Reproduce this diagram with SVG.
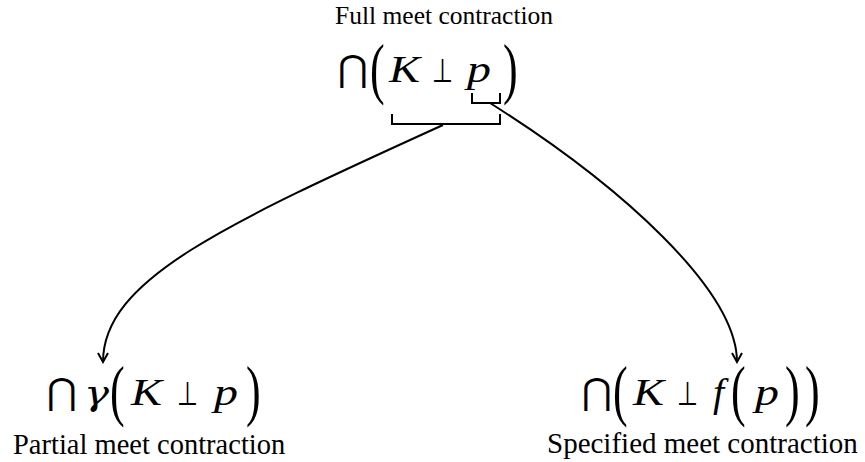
<svg xmlns="http://www.w3.org/2000/svg" width="865" height="462" viewBox="0 0 865 462">
<style>
.lbl{font-family:"Liberation Serif","Times New Roman",serif;fill:#000}
.m{font-family:"Liberation Serif","DejaVu Serif",serif;fill:#000}
.it{font-style:italic;font-size:37px}
.par{font-size:44px}
.gam{font-family:"DejaVu Serif",serif;font-style:italic;font-size:34px;fill:#000}
.cap{font-family:"DejaVu Sans","DejaVu Serif",sans-serif;font-size:36px;fill:#000}
.perp{font-family:"DejaVu Sans","DejaVu Serif",sans-serif;font-size:33px;fill:#000}
.ln{fill:none;stroke:#000;stroke-width:2}
</style>
<defs>
<marker id="ah" viewBox="0 0 12 12" refX="10" refY="6" markerWidth="12" markerHeight="12" markerUnits="userSpaceOnUse" orient="auto">
<path d="M1,1 L10,6 L1,11" fill="none" stroke="#000" stroke-width="2"/>
</marker>
</defs>
<g id="full">
<text class="lbl" x="335" y="24" font-size="25.5">Full meet contraction</text>
<text class="cap" x="338" y="81" textLength="30" lengthAdjust="spacingAndGlyphs">⋂</text>
<text class="m par" transform="translate(370,91) scale(1,1.55)">(</text>
<text class="m it" x="389" y="82" textLength="31" lengthAdjust="spacingAndGlyphs">K</text>
<text class="perp" x="432" y="82" textLength="21" lengthAdjust="spacingAndGlyphs">⊥</text>
<text class="m it" x="467" y="82" textLength="24" lengthAdjust="spacingAndGlyphs">p</text>
<text class="m par" transform="translate(503,91) scale(1,1.55)">)</text>
</g>
<g id="partial">
<text class="cap" x="47" y="404" textLength="30" lengthAdjust="spacingAndGlyphs">⋂</text>
<text class="gam" x="84" y="405" textLength="25" lengthAdjust="spacingAndGlyphs">γ</text>
<text class="m par" transform="translate(110,413) scale(1,1.55)">(</text>
<text class="m it" x="131" y="405" textLength="31" lengthAdjust="spacingAndGlyphs">K</text>
<text class="perp" x="177" y="405" textLength="21" lengthAdjust="spacingAndGlyphs">⊥</text>
<text class="m it" x="214" y="405" textLength="24" lengthAdjust="spacingAndGlyphs">p</text>
<text class="m par" transform="translate(246,413) scale(1,1.55)">)</text>
<text class="lbl" x="13" y="454" font-size="28.5">Partial meet contraction</text>
</g>
<g id="specified">
<text class="cap" x="582" y="404" textLength="30" lengthAdjust="spacingAndGlyphs">⋂</text>
<text class="m par" transform="translate(613,413) scale(1,1.55)">(</text>
<text class="m it" x="633" y="405" textLength="31" lengthAdjust="spacingAndGlyphs">K</text>
<text class="perp" x="677" y="405" textLength="21" lengthAdjust="spacingAndGlyphs">⊥</text>
<text class="m" x="713" y="406" font-style="italic" font-size="40">f</text>
<text class="m par" transform="translate(731,413) scale(1,1.55)">(</text>
<text class="m it" x="755" y="405" textLength="24" lengthAdjust="spacingAndGlyphs">p</text>
<text class="m par" transform="translate(785,413) scale(1,1.55)">)</text>
<text class="m par" transform="translate(805,413) scale(1,1.55)">)</text>
<text class="lbl" x="547" y="453" font-size="29">Specified meet contraction</text>
</g>
<g id="connectors">
<path class="ln" d="M392,114 V124 H500 V114"/>
<path class="ln" d="M472,93 V103 H500 V93"/>
<path class="ln" d="M443,125 C223,225 103,280 103,362" marker-end="url(#ah)"/>
<path class="ln" d="M490,103 C620,185 737,290 737,362" marker-end="url(#ah)"/>
</g>
</svg>
